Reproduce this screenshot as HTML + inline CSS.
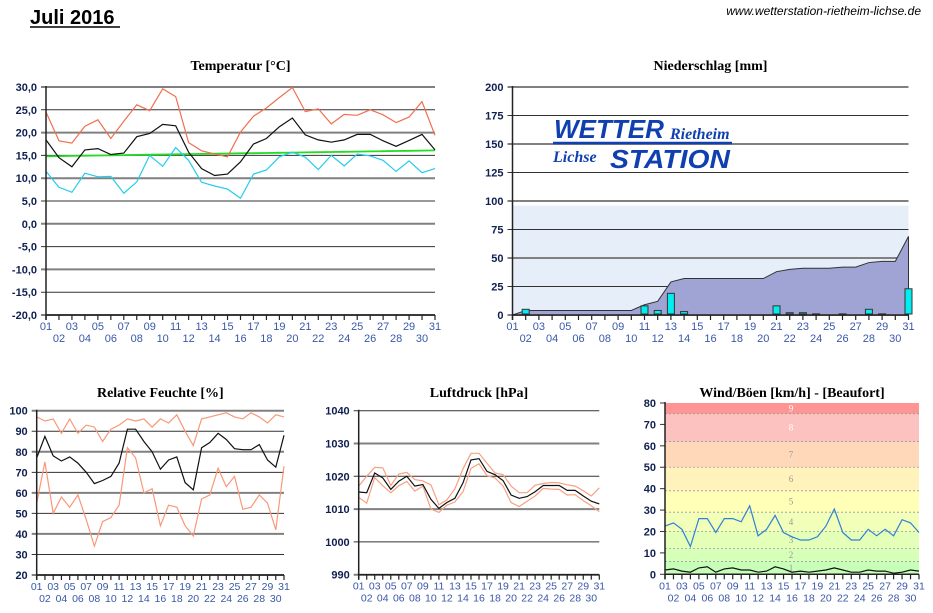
<!DOCTYPE html>
<html><head><meta charset="utf-8"><style>
body{margin:0;background:#fff;width:933px;height:613px;overflow:hidden}
svg{position:absolute;left:0;top:0}
</style></head><body>
<svg id="s" width="933" height="613" xmlns="http://www.w3.org/2000/svg" font-family="Liberation Sans, sans-serif"></svg>
<script>
var s=document.getElementById('s'),h='';
function L(x1,y1,x2,y2,c,w){h+='<line x1="'+x1+'" y1="'+y1+'" x2="'+x2+'" y2="'+y2+'" stroke="'+c+'" stroke-width="'+(w||1)+'"/>';}
function T(x,y,t,o){o=o||{};h+='<text x="'+x+'" y="'+y+'" font-size="'+(o.s||11)+'" fill="'+(o.c||'#102050')+'" text-anchor="'+(o.a||'start')+'"'+(o.b?' font-weight="bold"':'')+' font-family="'+(o.f||'Liberation Sans')+', sans-serif"'+(o.i?' font-style="italic"':'')+'>'+t+'</text>';}
function P(xs,ys,c,w){var p=xs.map(function(x,i){return x.toFixed(1)+','+ys[i].toFixed(1)}).join(' ');h+='<polyline points="'+p+'" fill="none" stroke="'+c+'" stroke-width="'+(w||1.2)+'"/>';}
function chart(o){
 var x0=o.x0,x1=o.x1,yt=o.yt,yb=o.yb,n=o.ticks.length,dx=(x1-x0)/30;
 var X=function(i){return x0+i*dx},Y=function(v){return yb-(v-o.min)/(o.max-o.min)*(yb-yt)};
 if(o.bg)o.bg(X,Y);
 for(var k=0;k<n;k++){var v=o.ticks[k],y=Y(v);
  if(!o.nogrid)L(x0-5,y,x1,y,k%2?'#333':'#808080',k%2?1:2);
  else L(x0-5,y,x0,y,'#333',1);
  T(x0-9,y+4,o.lab[k],{a:'end',b:1,s:o.fs||11});}
 if(o.draw)o.draw(X,Y);
 (o.series||[]).forEach(function(sr){P(sr.d.map(function(v,i){return X(i)}),sr.d.map(Y),sr.c,sr.w)});
 L(x0,yt-1,x0,yb+5,'#222',1.5);L(x0,yb,x1,yb,'#222',1.5);
 for(var i=0;i<31;i++){L(X(i),yb,X(i),yb+5,'#222',1.2);var d=(i<9?'0':'')+(i+1);
  T(X(i),yb+(i%2?27:15),d,{a:'middle',c:'#3858a8',s:o.xs||11});}
 T((x0+x1)/2,o.ty,o.title,{a:'middle',b:1,s:14,c:'#000',f:'Liberation Serif'});
}
T(30,24,'Juli 2016',{b:1,s:20,c:'#000'});L(30,27,120,27,'#000',1.5);
T(921,15,'www.wetterstation-rietheim-lichse.de',{a:'end',i:1,s:12,c:'#000'});
var tmax=[24.5,18.2,17.7,21.4,22.8,18.7,22.5,26.1,24.8,29.6,27.9,17.8,16,15.3,14.7,20.1,23.6,25.4,27.7,29.9,24.6,25.2,21.9,24,23.8,25,23.9,22.2,23.4,26.8,19.4];
var tmean=[18.4,14.5,12.5,16.2,16.5,15.2,15.5,19.1,19.8,21.8,21.5,15.7,12.1,10.6,10.9,13.6,17.5,18.7,21.3,23.2,19.5,18.4,17.9,18.4,19.6,19.6,18.2,17,18.3,19.6,16.2];
var tmin=[11.5,8,6.9,11.1,10.3,10.4,6.7,9.2,15,12.6,16.7,13.9,9.1,8.3,7.6,5.6,10.9,11.8,14.7,15.7,14.6,11.9,15,12.7,15.3,14.9,13.9,11.5,13.8,11.2,12.1];
var tg=[];for(var i=0;i<31;i++)tg.push(14.8+1.3*i/30);
var tt=[],tl=[];for(var v=-20;v<=30;v+=5){tt.push(v);tl.push(v.toFixed(1).replace('.',','));}
chart({x0:46,x1:435,yt:87,yb:315,min:-20,max:30,ticks:tt,lab:tl,ty:70,title:'Temperatur [°C]',
 series:[{d:tg,c:'#22dd22',w:1.8},{d:tmin,c:'#22ccee'},{d:tmax,c:'#f07050'},{d:tmean,c:'#111'}]});
var cum=[0,4,4,4,4,4,4,4,4,4,9,12,29,32,32,32,32,32,32,32,38,40,41,41,41,42,42,46,47,47,69];
var bars={1:5,10:8,11:4,12:19,13:3,20:8,21:2,22:2,23:1,25:1,27:5,28:1,30:23};
chart({x0:512.5,x1:908.5,yt:87,yb:315,min:0,max:200,ticks:[0,25,50,75,100,125,150,175,200],lab:['0','25','50','75','100','125','150','175','200'],ty:70,title:'Niederschlag [mm]',
 bg:function(X,Y){h+='<rect x="512.5" y="'+Y(96)+'" width="396" height="'+(315-Y(96))+'" fill="#e6eef9"/>';},
 draw:function(X,Y){var p=cum.map(function(v,i){return X(i)+','+Y(v)}).join(' ');
  h+='<polygon points="512.5,315 '+p+' 908.5,315" fill="#a0a4d4" stroke="#333" stroke-width="1"/>';
  for(var k in bars){var x=X(+k),y=Y(bars[k]);h+='<rect x="'+(x-3.5)+'" y="'+y+'" width="7" height="'+(314-y)+'" fill="#00eef0" stroke="#333" stroke-width="1"/>';}
 }});
h+='<text x="554" y="138" font-size="26" font-weight="900" font-style="italic" fill="#1040b0" font-family="Liberation Sans, sans-serif" textLength="110" lengthAdjust="spacingAndGlyphs">WETTER</text>';
T(670,139,'Rietheim',{b:1,i:1,s:16,c:'#1040b0',f:'Liberation Serif'});
L(553,143,732,143,'#1040b0',2.5);
T(553,162,'Lichse',{b:1,i:1,s:16,c:'#1040b0',f:'Liberation Serif'});
h+='<text x="610" y="168" font-size="26" font-weight="900" font-style="italic" fill="#1040b0" font-family="Liberation Sans, sans-serif" textLength="120" lengthAdjust="spacingAndGlyphs">STATION</text>';
var hmax=[97,95,96,89,96,89,93,92,85,91,93,96,95,96,92,96,94,98,90,83,96,97,98,99,97,96,99,97,94,98,97];
var hmean=[77,87.5,78,75.5,77.5,74.5,70,64.5,66,68,74.5,91,91,85,80,71.5,76,77.5,65,61.5,82,84.5,89,86,81.5,81,81,83.5,76,72.5,88];
var hmin=[55,75,50,58,53,59,47,34,46,48,54,82,77,60,62,44,54,53,44,39,57,59,72,63,68,52,53,59,55,42,73];
chart({x0:36.7,x1:284,yt:410.7,yb:575,min:20,max:100,ticks:[20,30,40,50,60,70,80,90,100],lab:['20','30','40','50','60','70','80','90','100'],ty:397,title:'Relative Feuchte [%]',xs:10.5,
 series:[{d:hmax,c:'#f89878'},{d:hmin,c:'#f89878'},{d:hmean,c:'#111'}]});
var pmean=[1015.2,1015,1021,1019.5,1016,1018.5,1020,1017,1017.5,1013,1010.2,1012,1013.3,1018,1025,1025.4,1021.5,1020.5,1018.7,1014.3,1013.3,1013.8,1015.3,1017.2,1017.2,1017.2,1015.7,1015.7,1014,1012.4,1011.6];
var pmax=[1017,1020,1022.7,1022.6,1017.2,1020.7,1021.2,1019,1018.6,1017.4,1011.3,1012.8,1016.2,1022.3,1027,1027,1024,1021,1020.5,1017,1015,1015,1017.3,1017.8,1018.1,1018,1017.4,1017,1015.6,1014,1016.5];
var pmin=[1013.6,1011.8,1019.6,1017.1,1015,1017.1,1018.4,1015.5,1017,1010,1009,1011.2,1012.2,1015.3,1022.4,1023.8,1020.2,1019.5,1017,1012,1010.8,1012.4,1014,1016.3,1016.1,1016,1014.3,1014.4,1012.6,1011,1009.2];
chart({x0:358.7,x1:599.3,yt:410.7,yb:574.7,min:990,max:1040,ticks:[990,1000,1010,1020,1030,1040],lab:['990','1000','1010','1020','1030','1040'],ty:397,title:'Luftdruck [hPa]',xs:10.5,
 series:[{d:pmax,c:'#f8a080'},{d:pmin,c:'#f8a080'},{d:pmean,c:'#111'}]});
var gust=[22.5,24,21,13,26,26,19.5,26,26,24.5,32,18,21,27.5,19.5,17.5,16,16,17.5,22.5,30.5,19.5,16,16,21,18,21,18,25.5,24,19.5];
var wmean=[2,2.5,1.5,1,3,3.5,1,2.5,3,2,2,1,1.5,3.5,2.5,1,1.5,1,1.5,2,3,2,1,1,2,1.5,1.5,0.5,1,2,1.5];
chart({x0:665,x1:919,yt:403,yb:574.3,min:0,max:80,ticks:[0,10,20,30,40,50,60,70,80],lab:['0','10','20','30','40','50','60','70','80'],ty:397,title:'Wind/Böen [km/h] - [Beaufort]',nogrid:1,xs:10.5,
 bg:function(X,Y){var b=[[0,6],[6,12],[12,20],[20,29],[29,39],[39,50],[50,62],[62,75],[75,87]];
  var cols=['#c8ffb8','#d6ffb8','#e4ffb8','#f2ffb8','#ffffb8','#fff2ba','#fed8b8','#fbc2c0','#ff9494'];
  for(var k=0;k<9;k++){var y1=Y(b[k][0]),y2=Math.max(Y(b[k][1]),403);h+='<rect x="665" y="'+y2+'" width="254" height="'+(y1-y2)+'" fill="'+cols[k]+'"/>';
   if(k>0)h+='<line x1="665" y1="'+y1+'" x2="919" y2="'+y1+'" stroke="#999" stroke-dasharray="2,2" stroke-width="0.8"/>';
   T(791,(y1+y2)/2+3,String(k+1),{a:'middle',s:9,c:k>6?'#fff':'#999',f:'Liberation Serif'});}
 },
 series:[{d:gust,c:'#3080d8'},{d:wmean,c:'#111'}]});
s.innerHTML=h;
</script>
</body></html>
